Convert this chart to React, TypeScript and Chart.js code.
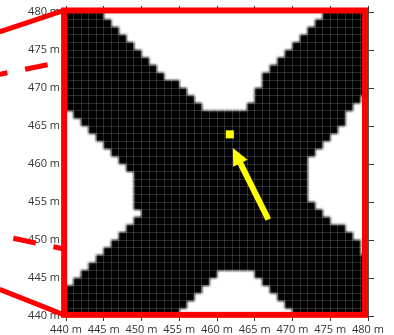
import React, { useEffect, useRef } from 'react';
import { Chart, registerables } from 'chart.js';

Chart.register(...registerables);

const X_MIN = 440;
const X_MAX = 480;
const Y_MIN = 440;
const Y_MAX = 480;

// centres of the 1 m grid rows, top to bottom
const rowCenters = [
  479.5, 478.5, 477.5, 476.5, 475.5, 474.5, 473.5, 472.5, 471.5, 470.5,
  469.5, 468.5, 467.5, 466.5, 465.5, 464.5, 463.5, 462.5, 461.5, 460.5,
  459.5, 458.5, 457.5, 456.5, 455.5, 454.5, 453.5, 452.5, 451.5, 450.5,
  449.5, 448.5, 447.5, 446.5, 445.5, 444.5, 443.5, 442.5, 441.5, 440.5,
];

// white (empty) notch at the top, between the two upper arms
const topNotchRows = [479.5, 478.5, 477.5, 476.5, 475.5, 474.5, 473.5, 472.5, 471.5, 470.5, 469.5, 468.5, 467.5];
const topNotchFrom = [445, 446, 447, 448, 449, 450, 451, 452, 453, 455, 456, 457, 458];
const topNotchTo = [474, 473, 472, 471, 470, 469, 468, 467, 466, 466, 465, 465, 464];

// white notch on the left edge
const leftNotchRows = [
  466.5, 465.5, 464.5, 463.5, 462.5, 461.5, 460.5, 459.5, 458.5, 457.5, 456.5, 455.5,
  454.5, 453.5, 452.5, 451.5, 450.5, 449.5, 448.5, 447.5, 446.5, 445.5, 444.5,
];
const leftNotchTo = [441, 442, 443, 444, 445, 446, 447, 448, 449, 449, 449, 449, 449, 450, 449, 448, 447, 446, 445, 444, 443, 442, 441];

// white notch on the right edge
const rightNotchRows = [
  468.5, 467.5, 466.5, 465.5, 464.5, 463.5, 462.5, 461.5, 460.5, 459.5, 458.5,
  457.5, 456.5, 455.5, 454.5, 453.5, 452.5, 451.5, 450.5, 449.5, 448.5,
];
const rightNotchFrom = [479, 478, 477, 477, 476, 475, 474, 473, 472, 472, 472, 472, 472, 472, 473, 474, 475, 477, 478, 479, 479];

// white notch at the bottom
const bottomNotchRows = [445.5, 444.5, 443.5, 442.5, 441.5, 440.5];
const bottomNotchFrom = [460, 459, 458, 457, 456, 455];
const bottomNotchTo = [465, 466, 467, 468, 469, 470];

// yellow marker and arrow
const markerX = [461.7];
const markerY = [463.9];
const arrowFrom = [466.8, 452.7];
const arrowTo = [462.1, 462.1];

// red inset frame and connector lines (data coordinates)
const frameX = [439.75, 479.6];
const frameY = [440.15, 480.2];
const solidConnectors = [
  [431.2, 477.4, 439.75, 480.2],
  [431.2, 443.5, 439.75, 440.15],
];
const dashedConnectors = [
  [431.2, 471.8, 439.75, 473.5, 15],
  [431.2, 450.6, 440.1, 448.75, 27],
];

const tickStep = 5;

function buildBlackRuns() {
  const white: Record<string, number[][]> = {};
  const add = (ys: number[], from: (i: number) => number, to: (i: number) => number) => {
    ys.forEach((y, i) => {
      const k = String(y);
      (white[k] = white[k] || []).push([from(i), to(i)]);
    });
  };
  add(topNotchRows, (i) => topNotchFrom[i], (i) => topNotchTo[i]);
  add(leftNotchRows, () => X_MIN, (i) => leftNotchTo[i]);
  add(rightNotchRows, (i) => rightNotchFrom[i], () => X_MAX);
  add(bottomNotchRows, (i) => bottomNotchFrom[i], (i) => bottomNotchTo[i]);
  const runs: { y: number; x: number[] }[] = [];
  rowCenters.forEach((y) => {
    const ws = (white[String(y)] || []).slice().sort((a, b) => a[0] - b[0]);
    let cur = X_MIN;
    ws.forEach(([a, b]) => {
      if (a > cur) runs.push({ y, x: [cur, a] });
      cur = Math.max(cur, b);
    });
    if (cur < X_MAX) runs.push({ y, x: [cur, X_MAX] });
  });
  return runs;
}

const tickLabel = (v: any) => (Number(v) % tickStep === 0 ? `${v} m` : '');
const tickColor = (ctx: any) =>
  ctx.tick && Number(ctx.tick.value) % tickStep === 0 ? '#333333' : 'rgba(0,0,0,0)';

const overlayPlugin = {
  id: 'overlay',
  afterDatasetsDraw(chart: any) {
    const { left, top, width, height } = chart.chartArea;
    const c = chart.canvas as HTMLCanvasElement;
    const ctx = chart.ctx as CanvasRenderingContext2D;
    const tmp = document.createElement('canvas');
    tmp.width = c.width;
    tmp.height = c.height;
    const tctx = tmp.getContext('2d');
    if (!tctx) return;
    tctx.drawImage(c, 0, 0);
    ctx.save();
    ctx.setTransform(1, 0, 0, 1, 0, 0);
    ctx.beginPath();
    ctx.rect(left, top, width, height);
    ctx.clip();
    ctx.clearRect(left, top, width, height);
    ctx.filter = 'blur(1px)';
    ctx.drawImage(tmp, 0, 0);
    ctx.restore();
  },
  afterDraw(chart: any) {
    const ctx = chart.ctx as CanvasRenderingContext2D;
    const xs = chart.scales.x;
    const ys = chart.scales.y;
    const px = (v: number) => xs.getPixelForValue(v);
    const py = (v: number) => ys.getPixelForValue(v);

    // marker on top of grid
    chart.getDatasetMeta(1).data.forEach((el: any) => el.draw(ctx));

    // arrow
    const tx = px(arrowFrom[0]);
    const ty = py(arrowFrom[1]);
    const hx = px(arrowTo[0]);
    const hy = py(arrowTo[1]);
    const ang = Math.atan2(hy - ty, hx - tx);
    const headLen = 17;
    const headW = 16;
    const bx = hx - headLen * Math.cos(ang);
    const by = hy - headLen * Math.sin(ang);
    ctx.save();
    ctx.strokeStyle = '#ffff00';
    ctx.fillStyle = '#ffff00';
    ctx.lineWidth = 6;
    ctx.lineCap = 'butt';
    ctx.beginPath();
    ctx.moveTo(tx, ty);
    ctx.lineTo(bx + Math.cos(ang), by + Math.sin(ang));
    ctx.stroke();
    ctx.beginPath();
    ctx.moveTo(hx, hy);
    ctx.lineTo(bx - (headW / 2) * Math.sin(ang), by + (headW / 2) * Math.cos(ang));
    ctx.lineTo(bx + (headW / 2) * Math.sin(ang), by - (headW / 2) * Math.cos(ang));
    ctx.closePath();
    ctx.fill();
    ctx.restore();

    // red frame and connectors
    ctx.save();
    ctx.strokeStyle = '#ff0000';
    ctx.lineWidth = 6;
    ctx.lineJoin = 'miter';
    const fx0 = px(frameX[0]);
    const fx1 = px(frameX[1]);
    const fy0 = py(frameY[1]);
    const fy1 = py(frameY[0]);
    ctx.strokeRect(fx0, fy0, fx1 - fx0, fy1 - fy0);
    ctx.lineWidth = 5;
    ctx.lineCap = 'butt';
    solidConnectors.forEach(([x0, y0, x1, y1]) => {
      ctx.beginPath();
      ctx.moveTo(px(x0), py(y0));
      ctx.lineTo(px(x1), py(y1));
      ctx.stroke();
    });
    ctx.setLineDash([23, 18]);
    dashedConnectors.forEach(([x0, y0, x1, y1, off]) => {
      ctx.lineDashOffset = off;
      ctx.beginPath();
      ctx.moveTo(px(x0), py(y0));
      ctx.lineTo(px(x1), py(y1));
      ctx.stroke();
    });
    ctx.restore();
  },
};

export default function App() {
  const ref = useRef<HTMLCanvasElement | null>(null);

  useEffect(() => {
    if (!ref.current) return;
    const runs = buildBlackRuns();
    const font = { family: "'Open Sans', sans-serif", size: 11 };
    const gridColor = 'rgba(255,255,255,0.17)';
    const chart = new Chart(ref.current, {
      type: 'scatter',
      data: {
        datasets: [
          {
            type: 'bar',
            indexAxis: 'y',
            data: runs as any,
            backgroundColor: '#000000',
            borderWidth: 0,
            barPercentage: 1,
            categoryPercentage: 1,
            grouped: false,
          } as any,
          {
            type: 'scatter',
            data: markerX.map((x, i) => ({ x, y: markerY[i] })),
            backgroundColor: '#ffff00',
            borderWidth: 0,
            pointStyle: 'rect',
            pointRadius: 5.7,
            pointHoverRadius: 5.7,
          } as any,
        ],
      },
      options: {
        animation: false,
        responsive: true,
        maintainAspectRatio: false,
        events: [],
        layout: { padding: 0 },
        plugins: { legend: { display: false }, tooltip: { enabled: false } },
        scales: {
          x: {
            type: 'linear',
            position: 'bottom',
            min: X_MIN,
            max: X_MAX,
            offset: false,
            grid: {
              z: 1,
              offset: false,
              color: gridColor,
              lineWidth: 1,
              drawTicks: true,
              tickLength: 5,
              tickColor: tickColor,
            },
            border: { display: false },
            ticks: {
              stepSize: 1,
              maxTicksLimit: 100,
              autoSkip: false,
              maxRotation: 0,
              minRotation: 0,
              padding: 2,
              color: '#333333',
              font,
              callback: tickLabel,
            },
            afterFit: (s: any) => {
              s.height = 19;
            },
          },
          x2: {
            type: 'linear',
            position: 'top',
            min: X_MIN,
            max: X_MAX,
            offset: false,
            grid: { drawOnChartArea: false, drawTicks: true, tickLength: 6, tickColor: '#333333' },
            border: { display: false },
            ticks: { stepSize: tickStep, display: false },
            afterFit: (s: any) => {
              s.height = 12;
            },
          },
          y: {
            type: 'linear',
            position: 'left',
            min: Y_MIN,
            max: Y_MAX,
            offset: false,
            grid: {
              z: 1,
              offset: false,
              color: gridColor,
              lineWidth: 1,
              drawTicks: true,
              tickLength: 5,
              tickColor: tickColor,
            },
            border: { display: false },
            ticks: {
              stepSize: 1,
              maxTicksLimit: 100,
              autoSkip: false,
              padding: 1,
              color: '#333333',
              font,
              callback: tickLabel,
            },
            afterFit: (s: any) => {
              s.width = 66;
            },
          },
          y2: {
            type: 'linear',
            position: 'right',
            min: Y_MIN,
            max: Y_MAX,
            offset: false,
            grid: { drawOnChartArea: false, drawTicks: true, tickLength: 6, tickColor: '#333333' },
            border: { display: true, color: '#333333', width: 1 },
            ticks: { stepSize: tickStep, display: false },
            afterFit: (s: any) => {
              s.width = 26;
            },
          },
        },
      } as any,
      plugins: [overlayPlugin],
    });
    return () => chart.destroy();
  }, []);

  return (
    <div style={{ position: 'fixed', left: 0, top: 0, width: 394, height: 335, background: '#ffffff' }}>
      <canvas ref={ref} />
    </div>
  );
}
